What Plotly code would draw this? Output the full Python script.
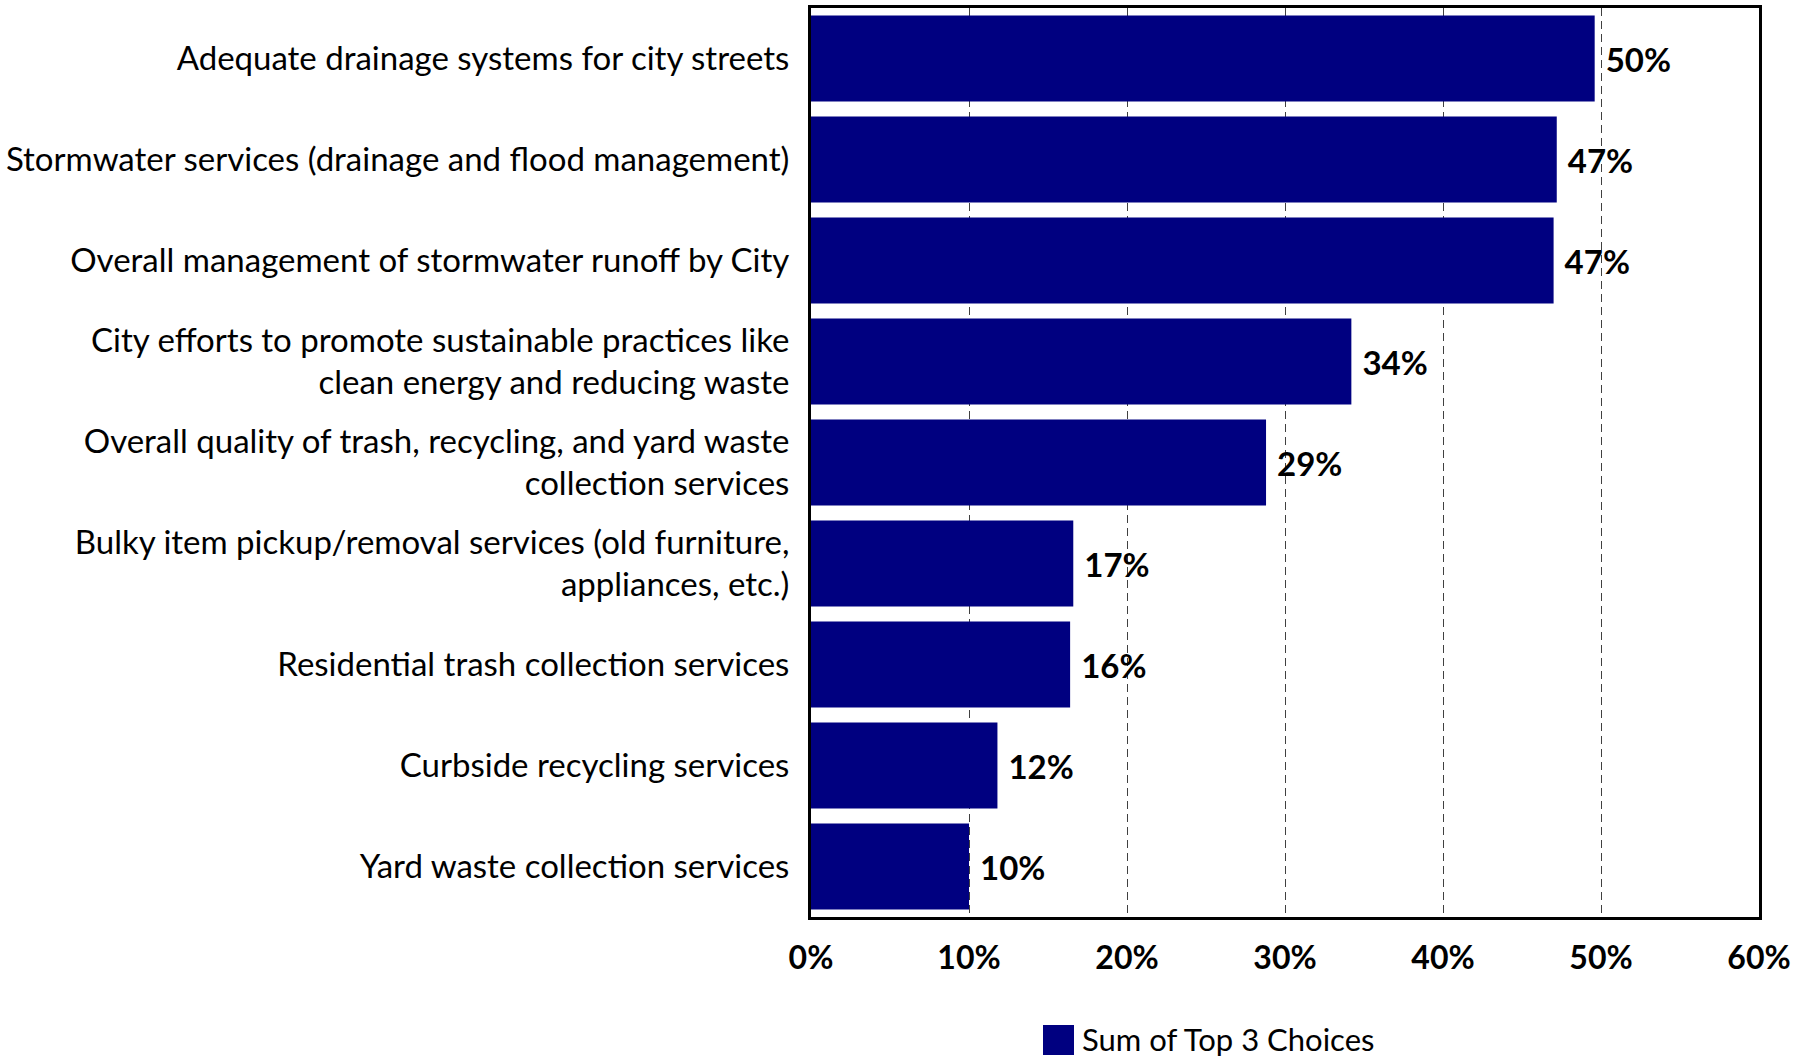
import plotly.graph_objects as go

# Share of respondents naming each service among their top three priorities
categories = [
    "Adequate drainage systems for city streets",
    "Stormwater services (drainage and flood management)",
    "Overall management of stormwater runoff by City",
    "City efforts to promote sustainable practices like<br>clean energy and reducing waste",
    "Overall quality of trash, recycling, and yard waste<br>collection services",
    "Bulky item pickup/removal services (old furniture,<br>appliances, etc.)",
    "Residential trash collection services",
    "Curbside recycling services",
    "Yard waste collection services",
]
top3_share = [0.496, 0.472, 0.470, 0.342, 0.288, 0.166, 0.164, 0.118, 0.100]

tick_values = [0, 0.1, 0.2, 0.3, 0.4, 0.5, 0.6]
tick_labels = ["0%", "10%", "20%", "30%", "40%", "50%", "60%"]
series_name = "Sum of Top 3 Choices"

NAVY = "#000080"
FONT = "Lato"

fig = go.Figure()
fig.add_trace(go.Bar(
    x=top3_share,
    y=categories,
    orientation="h",
    marker=dict(color=NAVY, line=dict(width=0)),
    name=series_name,
    texttemplate="\u00a0%{x:.0%}",
    textposition="outside",
    textfont=dict(family=FONT, size=33, color="black", weight="bold"),
    cliponaxis=False,
    showlegend=False,
))

fig.update_layout(
    width=1812,
    height=1060,
    margin=dict(l=811, r=53, t=8, b=143, autoexpand=False),
    paper_bgcolor="white",
    plot_bgcolor="white",
    bargap=0.15,
    font=dict(family=FONT, size=33, color="black"),
    xaxis=dict(
        range=[0, 0.6],
        tickvals=tick_values,
        ticktext=tick_labels,
        tickfont=dict(family=FONT, size=32, color="black", weight="bold"),
        ticks="",
        ticklabelstandoff=11,
        automargin=False,
        showgrid=True,
        gridcolor="#404040",
        gridwidth=1,
        griddash="8px,5px",
        showline=True,
        linecolor="black",
        linewidth=3,
        mirror=True,
        zeroline=False,
    ),
    yaxis=dict(
        autorange="reversed",
        tickfont=dict(family=FONT, size=33, color="black"),
        ticks="",
        ticklabelstandoff=12,
        automargin=False,
        showgrid=False,
        showline=True,
        linecolor="black",
        linewidth=3,
        mirror=True,
    ),
)

# Legend key drawn below the axis
fig.add_shape(
    type="rect", xref="paper", yref="paper",
    x0=(1043 - 811) / 948, x1=(1074 - 811) / 948,
    y0=-(1055 - 917) / 909, y1=-(1025 - 917) / 909,
    fillcolor=NAVY, line=dict(width=0),
)
fig.add_annotation(
    xref="paper", yref="paper",
    x=(1080 - 811) / 948, y=-(1039 - 917) / 909,
    text=series_name, showarrow=False,
    xanchor="left", yanchor="middle",
    font=dict(family=FONT, size=31, color="black"),
)

fig.write_html("out.html")
